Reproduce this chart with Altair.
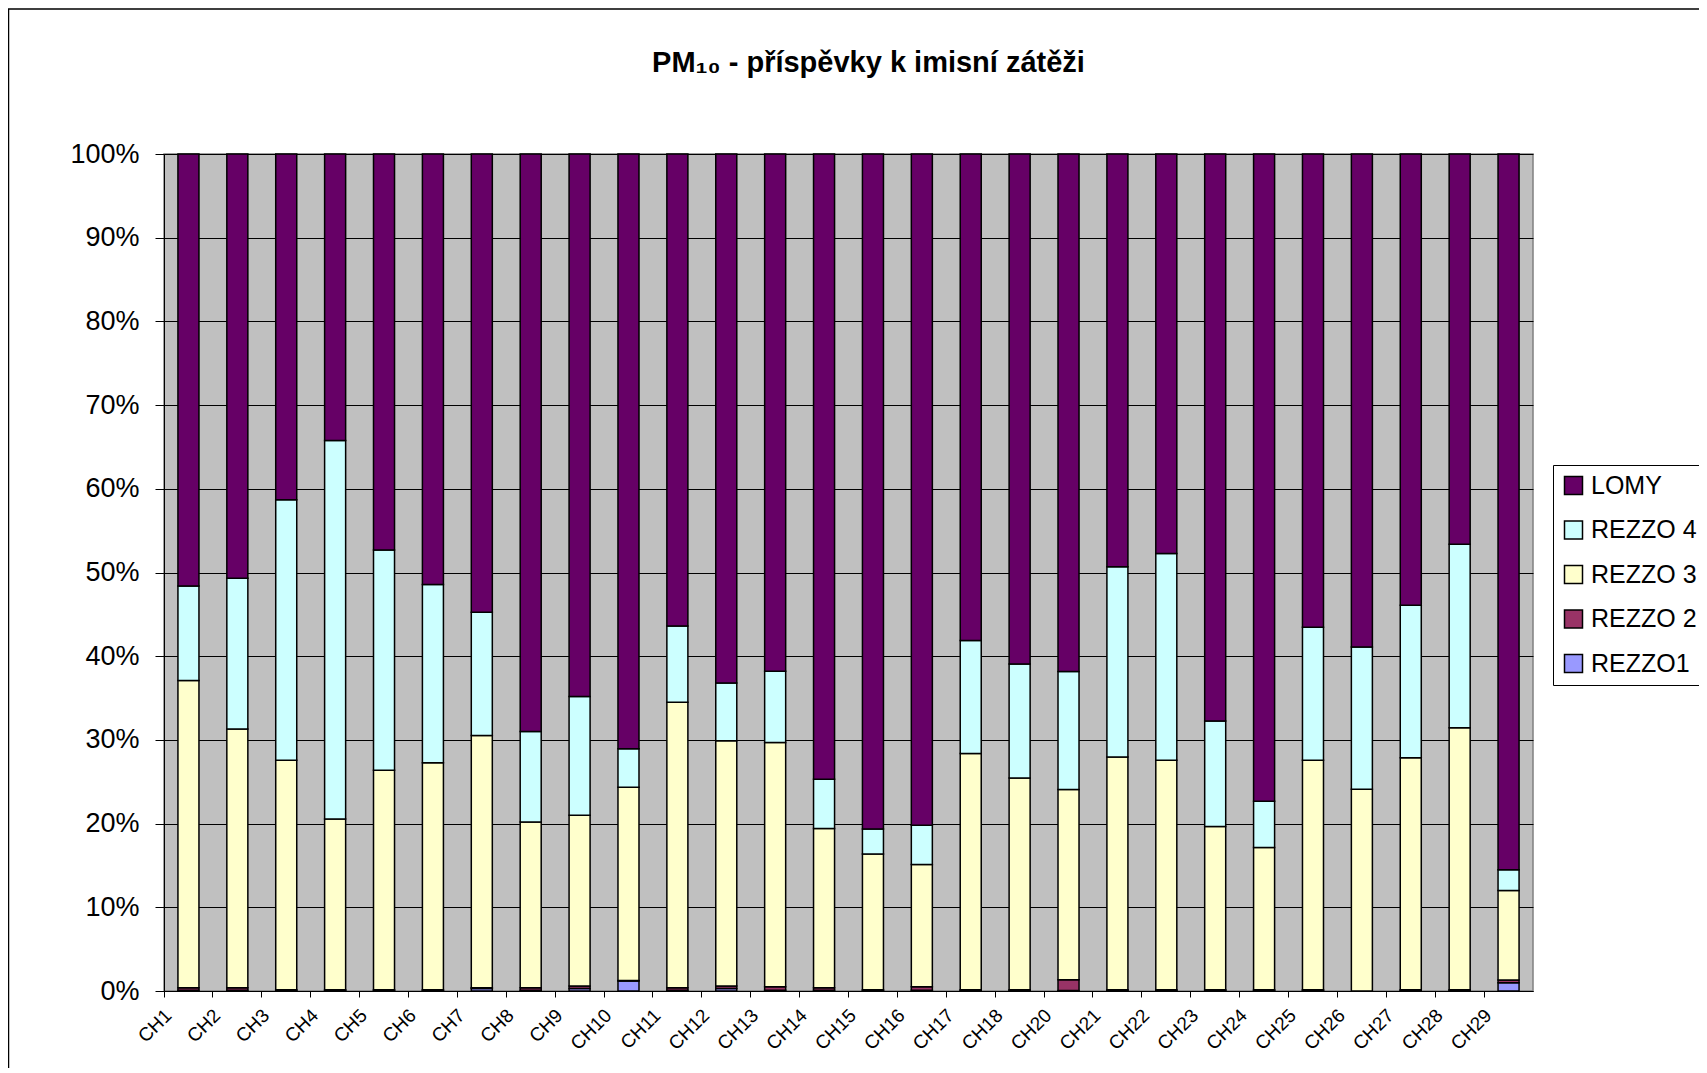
import altair as alt
import pandas as pd

stations = ["CH1", "CH2", "CH3", "CH4", "CH5", "CH6", "CH7", "CH8", "CH9", "CH10",
            "CH11", "CH12", "CH13", "CH14", "CH15", "CH16", "CH17", "CH18", "CH20",
            "CH21", "CH22", "CH23", "CH24", "CH25", "CH26", "CH27", "CH28", "CH29"]

rezzo1 = [0.1, 0.1, 0.05, 0.05, 0.05, 0.05, 0.3, 0.1, 0.3, 1.2,
          0.1, 0.3, 0.1, 0.1, 0.05, 0.1, 0.05, 0.05, 0.05,
          0.05, 0.05, 0.05, 0.05, 0.05, 0.0, 0.05, 0.05, 1.0]
rezzo2 = [0.3, 0.3, 0.1, 0.1, 0.1, 0.1, 0.1, 0.3, 0.3, 0.05,
          0.3, 0.3, 0.4, 0.3, 0.1, 0.4, 0.1, 0.1, 1.3,
          0.1, 0.1, 0.1, 0.1, 0.1, 0.0, 0.1, 0.1, 0.3]
rezzo3 = [36.7, 30.9, 27.4, 20.4, 26.2, 27.1, 30.1, 19.8, 20.4, 23.1,
          34.1, 29.3, 29.2, 19.0, 16.2, 14.6, 28.2, 25.3, 22.7,
          27.8, 27.4, 19.5, 17.0, 27.4, 24.1, 27.7, 31.3, 10.7]
rezzo4 = [11.3, 18.0, 31.1, 45.2, 26.3, 21.3, 14.7, 10.8, 14.2, 4.6,
          9.1, 6.9, 8.5, 5.9, 3.0, 4.7, 13.5, 13.6, 14.1,
          22.7, 24.7, 12.6, 5.5, 15.9, 17.0, 18.2, 21.9, 2.5]
lomy = [51.6, 50.7, 41.3, 34.2, 47.3, 51.4, 54.7, 69.0, 64.8, 71.1,
        56.4, 63.2, 61.8, 74.7, 80.6, 80.2, 58.1, 60.9, 61.8,
        49.3, 47.7, 67.7, 77.3, 56.5, 58.9, 53.9, 46.6, 85.5]

stack_names = ["REZZO1", "REZZO 2", "REZZO 3", "REZZO 4", "LOMY"]
stack_values = [rezzo1, rezzo2, rezzo3, rezzo4, lomy]
legend_order = ["LOMY", "REZZO 4", "REZZO 3", "REZZO 2", "REZZO1"]
legend_colors = ["#660066", "#CCFFFF", "#FFFFCC", "#993366", "#9999FF"]
y_ticks = [0, 0.1, 0.2, 0.3, 0.4, 0.5, 0.6, 0.7, 0.8, 0.9, 1.0]

rows = []
for k, (name, vals) in enumerate(zip(stack_names, stack_values)):
    for st, v in zip(stations, vals):
        rows.append({"station": st, "series": name, "value": v, "stack_order": k})
df = pd.DataFrame(rows)

FONT = "Liberation Sans"

bars = alt.Chart(df).mark_bar(
    width=alt.RelativeBandSize(0.43), stroke="black", strokeWidth=1.5
).encode(
    x=alt.X("station:N", sort=stations, title=None,
            scale=alt.Scale(paddingInner=0, paddingOuter=0),
            axis=alt.Axis(bandPosition=0, labelAngle=-45, labelAlign="right",
                          labelBaseline="middle", labelOffset=-20, labelPadding=15,
                          tickSize=6, tickColor="black", domainColor="black",
                          labelFontSize=19, labelColor="black", labelFont=FONT,
                          grid=False, labelOverlap=False)),
    y=alt.Y("value:Q", stack="normalize", title=None,
            scale=alt.Scale(domain=[0, 1]),
            axis=alt.Axis(format=".0%", values=y_ticks, tickSize=9, labelPadding=16,
                          labelFontSize=27, labelColor="black", labelFont=FONT,
                          grid=True, gridColor="black", gridWidth=1,
                          domainColor="black", tickColor="black")),
    color=alt.Color("series:N",
                    scale=alt.Scale(domain=legend_order, range=legend_colors),
                    legend=alt.Legend(title=None, orient="none", legendX=1389, legendY=311,
                                      symbolType="square", symbolSize=324,
                                      symbolStrokeColor="black", symbolStrokeWidth=1.5,
                                      symbolOpacity=1,
                                      labelFontSize=25, labelColor="black", labelFont=FONT,
                                      rowPadding=18.5, labelOffset=5,
                                      strokeColor="black", padding=8, fillColor="white")),
    order=alt.Order("stack_order:Q", sort="ascending"),
)

frame = alt.Chart(pd.DataFrame({"a": [0]})).mark_rect(
    fillOpacity=0, stroke="black", strokeWidth=1.5
).encode(
    x=alt.value(-155.5), x2=alt.value(3000), y=alt.value(-145), y2=alt.value(3000)
)

chart = alt.layer(bars, frame).properties(
    width=1369, height=837,
    autosize=alt.AutoSizeParams(type="none"),
    padding={"left": 156, "top": 146, "right": 166, "bottom": 77},
    title=alt.TitleParams(text="PM₁₀ - příspěvky k imisní zátěži", fontSize=29,
                          fontWeight="bold", font=FONT, anchor="middle", frame="group",
                          offset=-93, baseline="alphabetic", dx=20, color="black"),
).configure(
    background="white"
).configure_view(
    fill="#C0C0C0", stroke="#808080", strokeWidth=1.5
)

chart.save("out.html", embed_options={"renderer": "svg", "actions": False})
